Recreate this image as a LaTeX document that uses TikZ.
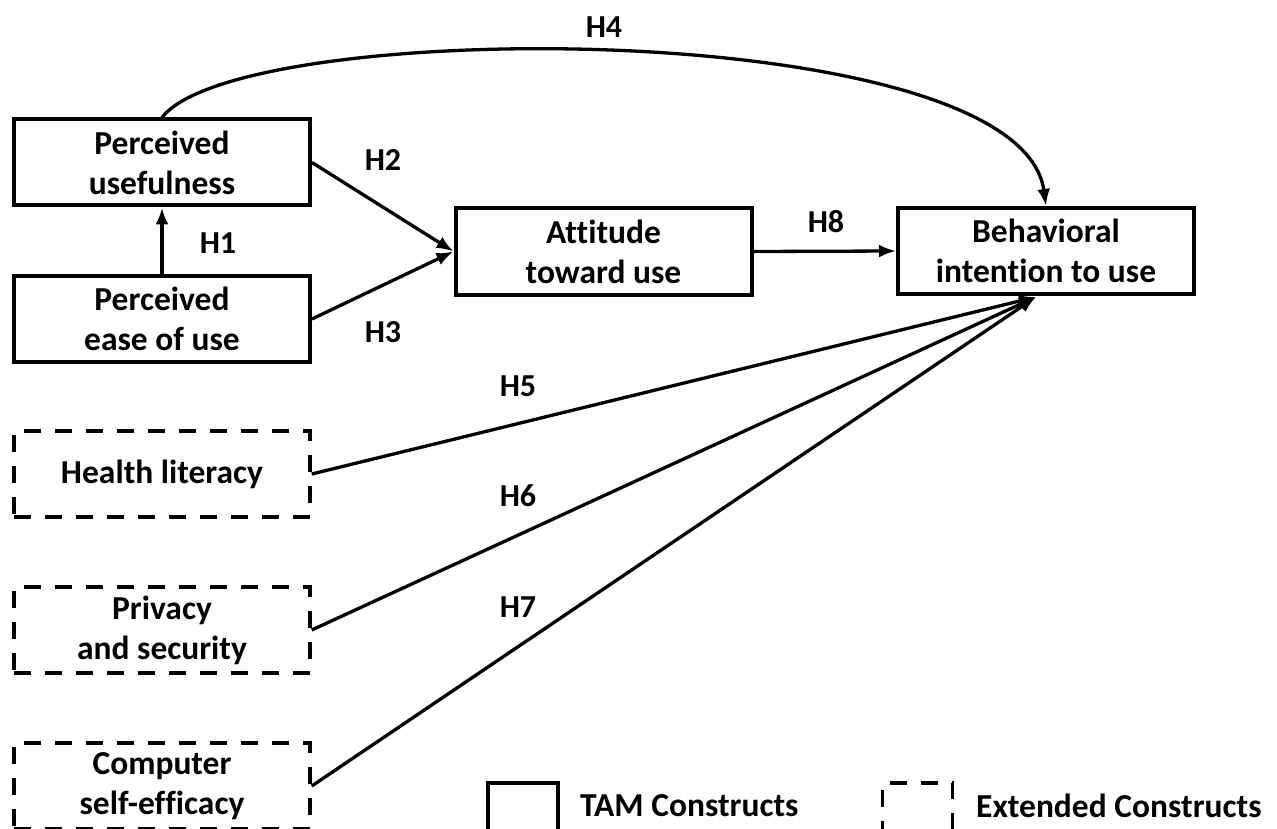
\documentclass[tikz,border=0pt]{standalone}
\usepackage{fontspec}
\setmainfont{Carlito}[Ligatures=CommonOff]
\usetikzlibrary{arrows.meta}
\tikzset{
  tam/.style={draw, line width=4pt, rectangle, minimum width=296pt, minimum height=86pt, inner sep=0pt, align=center, font=\fontsize{33.5}{40}\selectfont\bfseries},
  ext/.style={tam, dash pattern=on 17pt off 14pt, line width=3.5pt},
  hyp/.style={line width=3.3pt, -{Latex[length=17pt,width=13pt]}},
  lbl/.style={font=\fontsize{32}{36}\selectfont\bfseries, inner sep=0pt},
  legtxt/.style={font=\fontsize{33.5}{40}\selectfont\bfseries, inner sep=0pt, anchor=west}
}
\begin{document}
\begin{tikzpicture}[x=1pt,y=-1pt]
\clip (0,0) rectangle (1277,829);
\fill[white] (0,0) rectangle (1277,829);
% TAM constructs
\node[tam] (pu) at (162,162.5) {Perceived\\usefulness};
\node[tam] (peou) at (162,319) {Perceived\\ease of use};
\node[tam] (att) at (603.5,251.5) {Attitude\\toward use};
\node[tam] (bi) at (1046,251) {Behavioral\\intention to use};
% extended constructs
\node[ext] (hl) at (162,474) {Health literacy};
\node[ext] (ps) at (162,630) {Privacy\\and security};
\node[ext] (cse) at (162,786) {Computer\\self-efficacy};
\coordinate (conv) at (1036,297);
% connectors
\draw[hyp] (peou.north) -- (pu.south);
\draw[hyp] (pu.east) -- (att.west);
\draw[hyp] (peou.east) -- (att.west);
\draw[hyp] (att.east) -- (bi.west);
\draw[hyp] (pu.north) .. controls (240,16) and (1020,16) .. (bi.north);
\draw[hyp] (hl.east) -- (conv);
\draw[hyp] (ps.east) -- (conv);
\draw[hyp] (cse.east) -- (conv);
% labels
\node[lbl] (h1) at (218,243) {H1};
\node[lbl] (h2) at (383,160) {H2};
\node[lbl] (h3) at (383,332) {H3};
\node[lbl] (h4) at (604,27) {H4};
\node[lbl] (h8) at (826,222) {H8};
\node[lbl] (h5) at (518,386) {H5};
\node[lbl] (h6) at (518,496) {H6};
\node[lbl] (h7) at (518,607) {H7};
% legend
\node[draw, line width=4pt, minimum width=70pt, minimum height=70pt, inner sep=0pt] (legtam) at (522.5,818) {};
\node[legtxt] (legtamtxt) at (580,806) {TAM Constructs};
\node[draw, line width=3.5pt, dash pattern=on 17pt off 14pt, minimum width=70pt, minimum height=70pt, inner sep=0pt] (legext) at (917.5,818) {};
\node[legtxt] (legexttxt) at (976,806) {Extended Constructs};
\end{tikzpicture}
\end{document}
